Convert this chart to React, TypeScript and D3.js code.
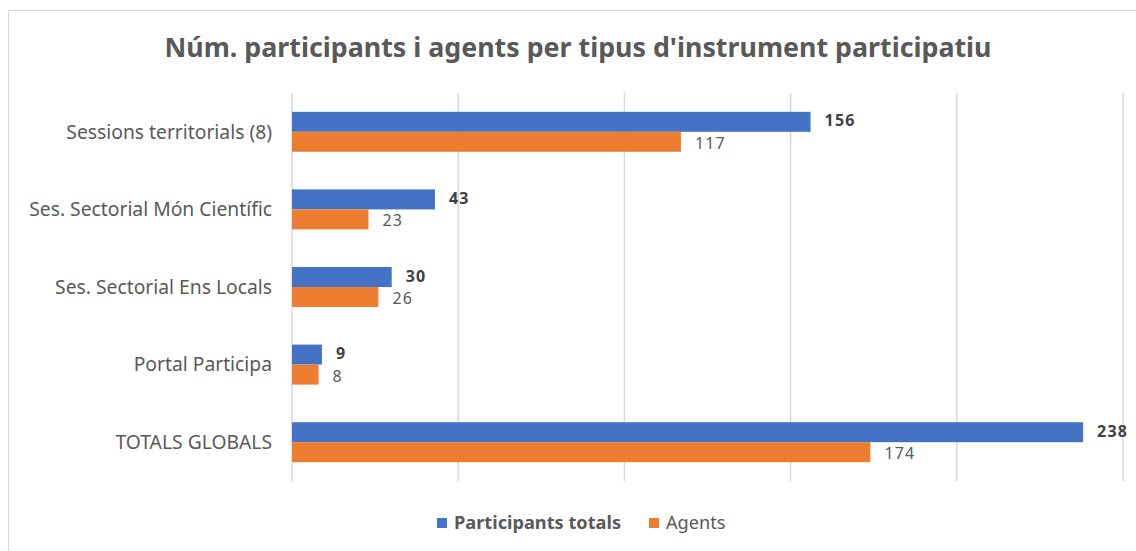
import React from "react";
import * as d3 from "d3";

const categories = [
  "Sessions territorials (8)",
  "Ses. Sectorial Món Científic",
  "Ses. Sectorial Ens Locals",
  "Portal Participa",
  "TOTALS GLOBALS",
];
const participants = [156, 43, 30, 9, 238];
const agents = [117, 23, 26, 8, 174];
const xTicks = [0, 50, 100, 150, 200, 250];
const seriesNames = ["Participants totals", "Agents"];
const colors = ["#4472C4", "#ED7D31"];

const FONT = "'Noto Sans', 'Open Sans', sans-serif";

export default function App() {
  const W = 1136, H = 551;
  const x = d3.scaleLinear().domain([0, 250]).range([292, 1123]);
  const y = d3.scaleBand<string>().domain(categories).range([93, 481]).paddingInner(0.485).paddingOuter(0.2425);
  const sub = d3.scaleBand<number>().domain([0, 1]).range([0, y.bandwidth()]);
  const series = [participants, agents];
  return (
    <svg width={W} height={H} style={{ position: "absolute", left: 0, top: 0, display: "block" }}>
      <rect x={0} y={0} width={W} height={H} fill="#fff" />
      <rect x={8.5} y={10.5} width={W + 10} height={H + 10} fill="#fff" stroke="#d9d9d9" strokeWidth={1} />
      <text x={578} y={48} dy="0.35em" textAnchor="middle" fontFamily={FONT} fontSize={26.8} fontWeight="bold" fill="#595959">
        Núm. participants i agents per tipus d'instrument participatiu
      </text>
      {xTicks.map((t) => (
        <line key={t} x1={x(t)} x2={x(t)} y1={93} y2={481} stroke="#d9d9d9" strokeWidth={1.5} />
      ))}
      {categories.map((c) => (
        <text key={c} x={272} y={(y(c) ?? 0) + y.bandwidth() / 2} dy="0.35em" textAnchor="end" fontFamily={FONT} fontSize={19.3} fill="#595959">
          {c}
        </text>
      ))}
      {series.map((vals, si) =>
        vals.map((v, i) => {
          const yy = (y(categories[i]) ?? 0) + (sub(si) ?? 0);
          return (
            <g key={`${si}-${i}`}>
              <rect x={x(0)} y={yy} width={x(v) - x(0)} height={sub.bandwidth()} fill={colors[si]} />
              <text
                x={x(v) + 14}
                y={yy + sub.bandwidth() / 2 + (si === 0 ? -1 : 1.5)}
                dy="0.35em"
                fontFamily={FONT}
                fontSize={16}
                letterSpacing={1.2}
                fontWeight={si === 0 ? "bold" : "normal"}
                fill={si === 0 ? "#404040" : "#595959"}
              >
                {v}
              </text>
            </g>
          );
        })
      )}
      <g>
        <rect x={437} y={518} width={10} height={10} fill={colors[0]} />
        <text x={454} y={523} dy="0.35em" fontFamily={FONT} fontSize={18.2} fontWeight="bold" fill="#595959">
          {seriesNames[0]}
        </text>
        <rect x={649} y={518} width={10} height={10} fill={colors[1]} />
        <text x={666} y={523} dy="0.35em" fontFamily={FONT} fontSize={18.2} fill="#595959">
          {seriesNames[1]}
        </text>
      </g>
    </svg>
  );
}
